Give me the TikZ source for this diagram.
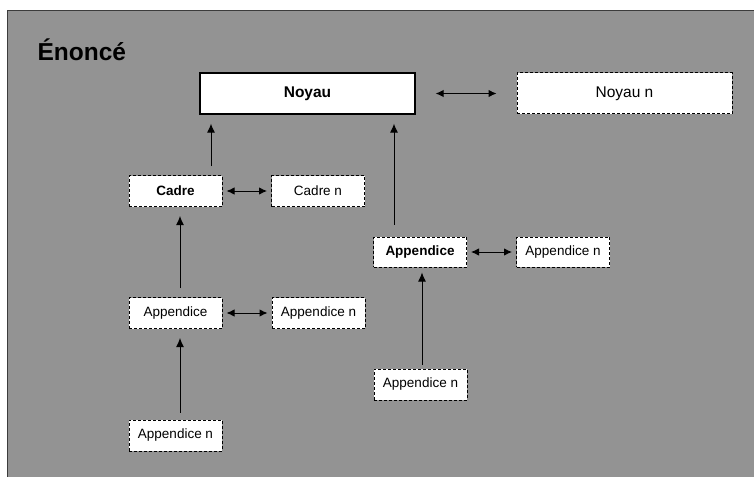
\documentclass[tikz,border=0pt]{standalone}
\usepackage{fontspec}
\setmainfont{Liberation Sans}
\usetikzlibrary{arrows.meta}
\definecolor{sheet}{RGB}{147,147,147}
\definecolor{frameline}{RGB}{60,60,60}
\tikzset{
  part/.style={draw, fill=white, line width=1pt, dash pattern=on 3pt off 2pt,
    minimum width=93pt, minimum height=31pt, inner sep=0pt,
    font=\fontsize{13.5}{16}\selectfont},
  core/.style={draw, fill=white, line width=1.3pt, minimum width=215pt,
    minimum height=41pt, inner sep=0pt, font=\bfseries\fontsize{15.5}{18}\selectfont},
  link/.style={-{Latex[length=9pt,width=8pt]}, line width=1pt,
    shorten <=9pt, shorten >=9pt},
  both/.style={{Latex[length=8pt,width=7.5pt]}-{Latex[length=8pt,width=7.5pt]},
    line width=1pt, shorten <=4pt, shorten >=4pt}
}
\begin{document}
\begin{tikzpicture}[x=1pt,y=-1pt]
        \useasboundingbox (0,0) rectangle (754,476);
        \filldraw[fill=sheet, draw=frameline, line width=1pt] (7,11) rectangle (770,490);

        \node[anchor=base west, font=\bfseries\fontsize{24.5}{29}\selectfont] (title) at (34,61) {Énoncé};

        \node[core] (noyau) at (307.5,93.5) {Noyau};
        \node[part, minimum width=215pt, minimum height=41pt, font=\fontsize{15.5}{18}\selectfont] (noyaun) at (624.5,93.5) {Noyau n};

        \node[part, font=\bfseries\fontsize{13.5}{16}\selectfont] (cadre) at (175.5,191) {Cadre};
        \node[part] (cadren) at (318,191) {Cadre n};

        \node[part, minimum height=30pt, font=\bfseries\fontsize{13.5}{16}\selectfont] (appR) at (420,252) {Appendice};
        \node[part, minimum height=30pt] (appRn) at (563,252) {Appendice n};
        \node[part] (appRb) at (420.5,384.5) {Appendice n};

        \node[part] (appL) at (175.5,313) {Appendice};
        \node[part] (appLn) at (318.5,313) {Appendice n};
        \node[part] (appLb) at (175.5,435.5) {Appendice n};

        \draw[both, shorten <=20pt, shorten >=20pt] (noyau) -- (noyaun);
        \draw[both] (cadre) -- (cadren);
        \draw[both] (appR) -- (appRn);
        \draw[both] (appL) -- (appLn);

        \draw[link] ([xshift=35.5pt]cadre.north) -- ([xshift=35.5pt]cadre.north |- noyau.south);
        \draw[link, shorten <=12pt] ([xshift=-26pt]appR.north) -- ([xshift=-26pt]appR.north |- noyau.south);
        \draw[link] ([xshift=4.5pt]appL.north) -- ([xshift=4.5pt]appL.north |- cadre.south);
        \draw[link, shorten <=7pt] ([xshift=4.5pt]appLb.north) -- ([xshift=4.5pt]appLb.north |- appL.south);
        \draw[link, shorten <=4pt, shorten >=5pt] ([xshift=1.5pt]appRb.north) -- ([xshift=1.5pt]appRb.north |- appR.south);
      \end{tikzpicture}
\end{document}
